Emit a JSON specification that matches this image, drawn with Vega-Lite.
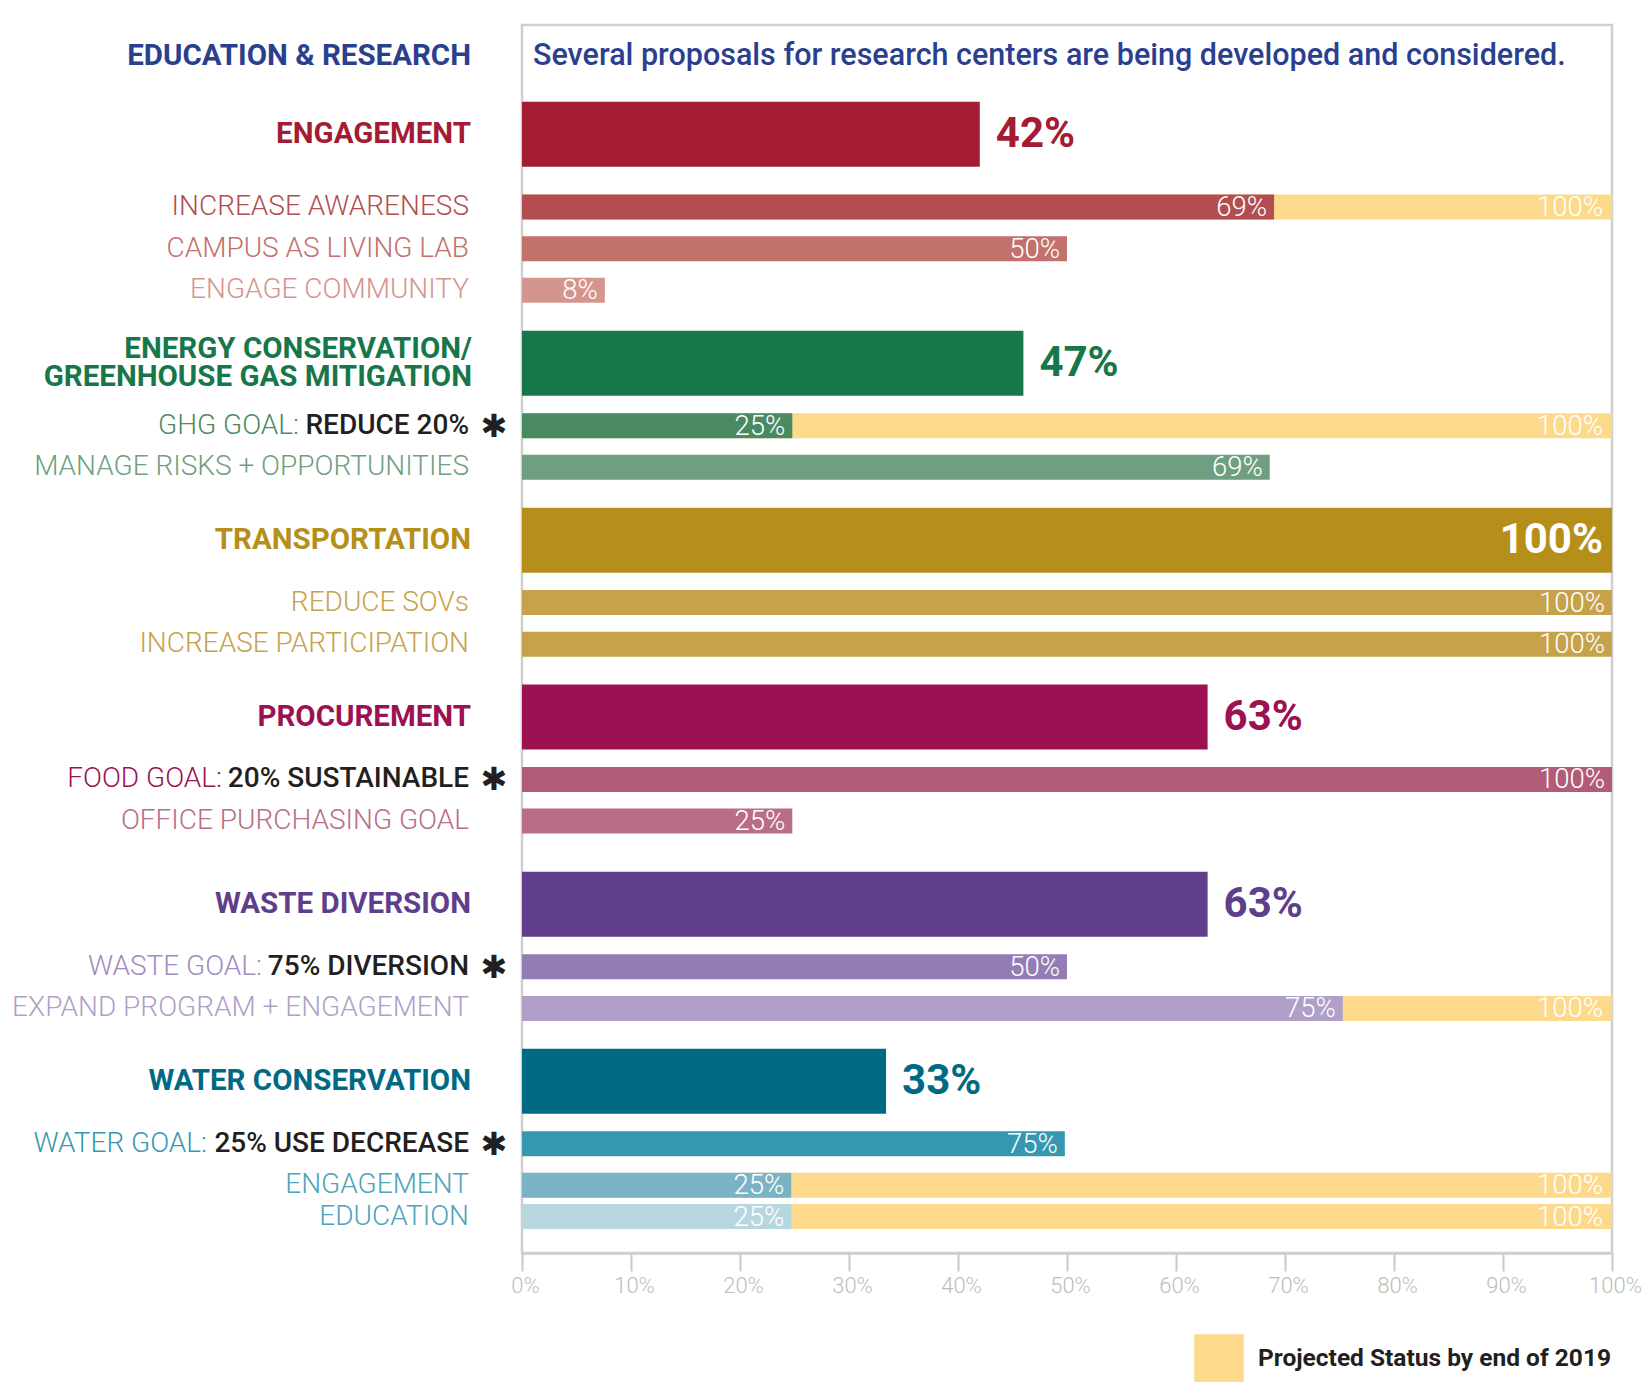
{
  "$schema": "https://vega.github.io/schema/vega-lite/v6.json",
  "width": 1090,
  "height": 1228,
  "autosize": {"type": "none"},
  "padding": {"left": 522, "top": 25, "right": 33, "bottom": 129},
  "background": "white",
  "config": {"view": {"stroke": "#CFCFCF", "strokeWidth": 2.5}, "font": "Roboto"},
  "data": {"values": [
    {"id": "er", "label": "EDUCATION & RESEARCH", "level": "title", "note": "Several proposals for research centers are being developed and considered."},
    {"id": "eng", "label": "ENGAGEMENT", "level": "main", "value": 42, "pct": "42%"},
    {"id": "ia", "label": "INCREASE AWARENESS", "level": "sub", "value": 69, "pct": "69%", "projected": 100, "projLabel": "100%"},
    {"id": "cal", "label": "CAMPUS AS LIVING LAB", "level": "sub", "value": 50, "pct": "50%"},
    {"id": "ec", "label": "ENGAGE COMMUNITY", "level": "sub", "value": 7.6, "pct": "8%"},
    {"id": "energy", "label": "ENERGY CONSERVATION/\nGREENHOUSE GAS MITIGATION", "level": "main", "value": 46, "pct": "47%"},
    {"id": "ghg", "prefix": "GHG GOAL:", "emph": "REDUCE 20%", "star": true, "level": "sub", "value": 24.8, "pct": "25%", "projected": 100, "projLabel": "100%"},
    {"id": "mr", "label": "MANAGE RISKS + OPPORTUNITIES", "level": "sub", "value": 68.6, "pct": "69%"},
    {"id": "trans", "label": "TRANSPORTATION", "level": "main", "value": 100, "pct": "100%"},
    {"id": "sov", "label": "REDUCE SOVs", "level": "sub", "value": 100, "pct": "100%"},
    {"id": "ip", "label": "INCREASE PARTICIPATION", "level": "sub", "value": 100, "pct": "100%"},
    {"id": "proc", "label": "PROCUREMENT", "level": "main", "value": 62.9, "pct": "63%"},
    {"id": "food", "prefix": "FOOD GOAL:", "emph": "20% SUSTAINABLE", "star": true, "level": "sub", "value": 100, "pct": "100%"},
    {"id": "office", "label": "OFFICE PURCHASING GOAL", "level": "sub", "value": 24.8, "pct": "25%"},
    {"id": "waste", "label": "WASTE DIVERSION", "level": "main", "value": 62.9, "pct": "63%"},
    {"id": "wg", "prefix": "WASTE GOAL:", "emph": "75% DIVERSION", "star": true, "level": "sub", "value": 50, "pct": "50%"},
    {"id": "ep", "label": "EXPAND PROGRAM + ENGAGEMENT", "level": "sub", "value": 75.3, "pct": "75%", "projected": 100, "projLabel": "100%"},
    {"id": "water", "label": "WATER CONSERVATION", "level": "main", "value": 33.4, "pct": "33%"},
    {"id": "wag", "prefix": "WATER GOAL:", "emph": "25% USE DECREASE", "star": true, "level": "sub", "value": 49.8, "pct": "75%"},
    {"id": "weng", "label": "ENGAGEMENT", "level": "sub", "value": 24.7, "pct": "25%", "projected": 100, "projLabel": "100%"},
    {"id": "wedu", "label": "EDUCATION", "level": "sub", "value": 24.7, "pct": "25%", "projected": 100, "projLabel": "100%"}
  ]},
  "encoding": {
    "y": {
      "field": "id", "type": "nominal", "axis": null,
      "scale": {
        "type": "band", "paddingInner": 0, "paddingOuter": 0,
        "domain": ["s0","s1","er","s3","s4","s5","s6","s7","s8","s9","eng","s11","s12","s13","s14","s15","s16","ia","s18","s19","s20","cal","s22","s23","s24","ec","s26","s27","s28","s29","s30","s31","energy","s33","s34","s35","s36","s37","ghg","s39","s40","s41","mr","s43","s44","s45","s46","s47","s48","trans","s50","s51","s52","s53","s54","sov","s56","s57","s58","ip","s60","s61","s62","s63","s64","s65","proc","s67","s68","s69","s70","s71","food","s73","s74","s75","office","s77","s78","s79","s80","s81","s82","s83","waste","s85","s86","s87","s88","s89","wg","s91","s92","s93","ep","s95","s96","s97","s98","s99","s100","water","s102","s103","s104","s105","s106","wag","s108","s109","s110","weng","s112","s113","wedu","s115","s116","s117"]
      }
    }
  },
  "layer": [
    {
      "transform": [{"filter": "isValid(datum.projected)"}],
      "mark": {"type": "bar", "height": 25},
      "encoding": {
        "x": {"field": "projected", "type": "quantitative", "scale": {"domain": [0, 100]},
          "axis": {"values": [0,10,20,30,40,50,60,70,80,90,100], "labelExpr": "datum.value + '%'", "title": null, "grid": false,
            "tickSize": 18, "tickColor": "#C8C8C8", "tickWidth": 2, "domainColor": "#CFCFCF", "domainWidth": 2.5,
            "labelColor": "#BDBDBD", "labelFont": "Roboto", "labelFontSize": 22, "labelFontWeight": 300, "labelPadding": 4, "labelFlush": false, "labelOffset": 3}},
        "color": {"datum": "Projected Status by end of 2019", "type": "nominal",
          "scale": {"domain": ["Projected Status by end of 2019"], "range": ["#FDDA8B"]},
          "legend": {"title": null, "orient": "none", "legendX": 672, "legendY": 1309, "symbolType": "square", "symbolSize": 2450,
            "symbolStrokeWidth": 0, "symbolOpacity": 1, "labelFont": "Roboto", "labelFontSize": 24.5, "labelFontWeight": 700,
            "labelColor": "#231F20", "labelOffset": 14, "labelLimit": 0}}
      }
    },
    {
      "transform": [{"filter": "datum.level === 'main'"}],
      "mark": {"type": "bar", "height": 65},
      "encoding": {
        "x": {"field": "value", "type": "quantitative"},
        "color": {"field": "id", "type": "nominal", "legend": null,
          "scale": {"domain": ["eng","energy","trans","proc","waste","water"], "range": ["#A31C33","#17774A","#B68F1A","#9B1151","#5F3E8C","#006A85"]}}
      }
    },
    {
      "transform": [{"filter": "datum.level === 'sub'"}],
      "mark": {"type": "bar", "height": 25},
      "encoding": {
        "x": {"field": "value", "type": "quantitative"},
        "color": {"field": "id", "type": "nominal", "legend": null,
          "scale": {"domain": ["ia","cal","ec","ghg","mr","sov","ip","food","office","wg","ep","wag","weng","wedu"],
            "range": ["#B34E50","#C2716C","#D4958F","#4A8A62","#6F9F80","#C6A24B","#C6A24B","#B25C78","#B96E86","#937DB4","#B09FC8","#3598B0","#7BB3C6","#B7D7E0"]}}
      }
    },
    {
      "transform": [{"filter": "datum.level === 'main' && datum.value < 100"}],
      "mark": {"type": "text", "align": "left", "baseline": "middle", "dx": 16, "fontSize": 42, "fontWeight": 700, "font": "Roboto"},
      "encoding": {
        "x": {"field": "value", "type": "quantitative"},
        "text": {"field": "pct"},
        "color": {"field": "id", "type": "nominal", "legend": null,
          "scale": {"domain": ["eng","energy","proc","waste","water"], "range": ["#A31C33","#17774A","#9B1151","#5F3E8C","#006A85"]}}
      }
    },
    {
      "transform": [{"filter": "datum.level === 'main' && datum.value >= 100"}],
      "mark": {"type": "text", "align": "right", "baseline": "middle", "dx": -9, "fontSize": 42, "fontWeight": 700, "font": "Roboto", "color": "white"},
      "encoding": {
        "x": {"field": "value", "type": "quantitative"},
        "text": {"field": "pct"}
      }
    },
    {
      "transform": [{"filter": "datum.level === 'sub'"}],
      "mark": {"type": "text", "align": "right", "baseline": "middle", "dx": -7, "dy": 1, "fontSize": 27.5, "fontWeight": 300, "font": "Roboto", "color": "white"},
      "encoding": {
        "x": {"field": "value", "type": "quantitative"},
        "text": {"field": "pct"}
      }
    },
    {
      "transform": [{"filter": "isValid(datum.projected)"}],
      "mark": {"type": "text", "align": "right", "baseline": "middle", "dx": -9, "dy": 1, "fontSize": 27.5, "fontWeight": 300, "font": "Roboto", "color": "white"},
      "encoding": {
        "x": {"field": "projected", "type": "quantitative"},
        "text": {"field": "projLabel"}
      }
    },
    {
      "transform": [{"filter": "datum.level === 'main' && datum.id !== 'energy'"}],
      "mark": {"type": "text", "align": "right", "baseline": "middle", "dx": -51, "fontSize": 29.5, "fontWeight": 700, "font": "Roboto"},
      "encoding": {
        "x": {"datum": 0, "type": "quantitative"},
        "text": {"field": "label"},
        "color": {"field": "id", "type": "nominal", "legend": null,
          "scale": {"domain": ["eng","trans","proc","waste","water"], "range": ["#A31C33","#B68F1A","#9B1151","#5F3E8C","#006A85"]}}
      }
    },
    {
      "transform": [{"filter": "datum.id === 'energy'"}],
      "mark": {"type": "text", "align": "right", "baseline": "middle", "dx": -50, "dy": -14, "fontSize": 29.5, "fontWeight": 700, "font": "Roboto", "color": "#17774A", "lineBreak": "\n", "lineHeight": 28},
      "encoding": {
        "x": {"datum": 0, "type": "quantitative"},
        "text": {"field": "label"}
      }
    },
    {
      "transform": [{"filter": "datum.level === 'title'"}],
      "mark": {"type": "text", "align": "right", "baseline": "middle", "dx": -51, "dy": 5, "fontSize": 29.5, "fontWeight": 700, "font": "Roboto", "color": "#2B3F8F"},
      "encoding": {
        "x": {"datum": 0, "type": "quantitative"},
        "text": {"field": "label"}
      }
    },
    {
      "transform": [{"filter": "datum.level === 'sub' && isValid(datum.label)"}],
      "mark": {"type": "text", "align": "right", "baseline": "middle", "dx": -53, "fontSize": 28, "fontWeight": 300, "font": "Roboto"},
      "encoding": {
        "x": {"datum": 0, "type": "quantitative"},
        "text": {"field": "label"},
        "color": {"field": "id", "type": "nominal", "legend": null,
          "scale": {"domain": ["ia","cal","ec","mr","sov","ip","office","ep","weng","wedu"],
            "range": ["#B34E50","#C2716C","#D4958F","#6F9F80","#C6A24B","#C6A24B","#B96E86","#B09FC8","#4DA3B9","#4DA3B9"]}}
      }
    },
    {
      "transform": [{"filter": "isValid(datum.emph)"}],
      "mark": {"type": "text", "align": "right", "baseline": "middle", "dx": -53, "fontSize": 28, "fontWeight": 500, "font": "Roboto", "color": "#231F20"},
      "encoding": {
        "x": {"datum": 0, "type": "quantitative"},
        "text": {"field": "emph"}
      }
    },
    {
      "transform": [{"filter": "datum.id === 'ghg'"}],
      "mark": {"type": "text", "align": "right", "baseline": "middle", "dx": -223, "fontSize": 28, "fontWeight": 300, "font": "Roboto", "color": "#4A8A62"},
      "encoding": {"x": {"datum": 0, "type": "quantitative"}, "text": {"field": "prefix"}}
    },
    {
      "transform": [{"filter": "datum.id === 'food'"}],
      "mark": {"type": "text", "align": "right", "baseline": "middle", "dx": -300, "fontSize": 28, "fontWeight": 300, "font": "Roboto", "color": "#9B1151"},
      "encoding": {"x": {"datum": 0, "type": "quantitative"}, "text": {"field": "prefix"}}
    },
    {
      "transform": [{"filter": "datum.id === 'wg'"}],
      "mark": {"type": "text", "align": "right", "baseline": "middle", "dx": -260, "fontSize": 28, "fontWeight": 300, "font": "Roboto", "color": "#A08CC0"},
      "encoding": {"x": {"datum": 0, "type": "quantitative"}, "text": {"field": "prefix"}}
    },
    {
      "transform": [{"filter": "datum.id === 'wag'"}],
      "mark": {"type": "text", "align": "right", "baseline": "middle", "dx": -315, "fontSize": 28, "fontWeight": 300, "font": "Roboto", "color": "#3598B0"},
      "encoding": {"x": {"datum": 0, "type": "quantitative"}, "text": {"field": "prefix"}}
    },
    {
      "transform": [{"filter": "datum.star === true"}],
      "mark": {"type": "text", "align": "center", "baseline": "middle", "dx": -28, "dy": 1, "fontSize": 32, "font": "DejaVu Sans", "color": "#231F20", "text": "\u2731"},
      "encoding": {
        "x": {"datum": 0, "type": "quantitative"}
      }
    },
    {
      "transform": [{"filter": "isValid(datum.note)"}],
      "mark": {"type": "text", "align": "left", "baseline": "middle", "dx": 11, "dy": 5, "fontSize": 30.5, "fontWeight": 500, "font": "Roboto", "color": "#2B3F8F"},
      "encoding": {
        "x": {"datum": 0, "type": "quantitative"},
        "text": {"field": "note"}
      }
    }
  ],
  "resolve": {"scale": {"color": "independent"}}
}
